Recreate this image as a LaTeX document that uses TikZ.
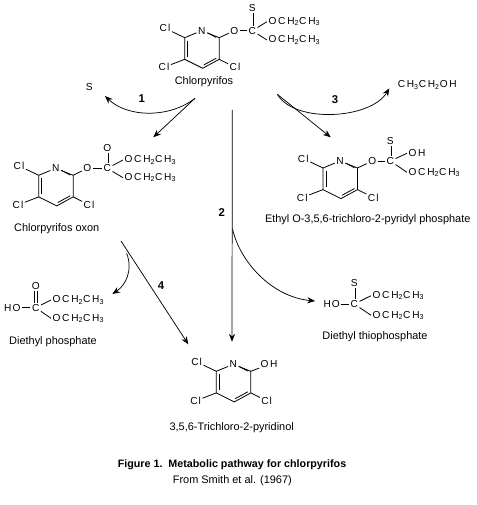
\documentclass[tikz,border=0pt]{standalone}
\usepackage{fontspec}
\setmainfont{Liberation Sans}
\usetikzlibrary{arrows.meta}

\tikzset{
  atom/.style={inner sep=1pt,font=\fontsize{7.6}{9}\selectfont},
  chemname/.style={inner sep=0pt,font=\fontsize{8.2}{10}\selectfont},
  steplabel/.style={inner sep=0pt,font=\fontsize{8.5}{10}\selectfont\bfseries},
  bond/.style={line width=0.6pt},
  dbond/.style={bond,double,double distance=1.5pt},
  patharrow/.style={line width=0.55pt,-{Stealth[length=5.8pt,width=4.6pt]}}
}

\newcommand{\Cl}{C\kern0.8pt l}
\newcommand{\ethoxy}{O\kern1.3pt C\kern1.3pt H\textsubscript{2}C\kern1.3pt H\textsubscript{3}}

% anello: prefisso, posizione di N, sostituente in 2
\newcommand{\pyrring}[4]{
  \begin{scope}[shift={(#2,#3)},name prefix=#1-]
    \node[atom] (N) at (0,0) {N};
    \coordinate (c2) at (17.5,7);
    \coordinate (c3) at (17.5,28.6);
    \coordinate (c4) at (1,37.6);
    \coordinate (c5) at (-17,28.6);
    \coordinate (c6) at (-17,7);
    \node[atom] (cl6) at (-36.7,-2.4) {\Cl};
    \node[atom] (cl5) at (-37.7,36.6) {\Cl};
    \node[atom] (cl3) at (33.3,36.6) {\Cl};
    #4
    \draw[bond] (N) -- (c2) -- (c3) -- (c4) -- (c5) -- (c6) -- (N);
    \draw[bond] (6,2.2) -- (14.5,6.8);
    \draw[bond] (14.5,27.5) -- (2,34.3);
    \draw[bond] (-14,10) -- (-14,26);
    \draw[bond] (c6) -- (cl6);
    \draw[bond] (c5) -- (cl5);
    \draw[bond] (c3) -- (cl3);
    \draw[bond] (c2) -- (sub);
  \end{scope}
}

\begin{document}
\begin{tikzpicture}[x=0.75pt,y=-0.75pt]
  \useasboundingbox (0,0) rectangle (476,505);

  % Chlorpyrifos
  \pyrring{cp}{201.7}{30.7}{\node[atom] (sub) at (32.6,0) {O};}
  \node[atom] (cpC) at (252.3,30.7) {C};
  \node[atom] (cpS) at (252.3,8.3) {S};
  \node[atom,anchor=west] (cpE1) at (267,21.7) {\ethoxy};
  \node[atom,anchor=west] (cpE2) at (267,40) {\ethoxy};
  \node[chemname] (cpName) at (204,82) {Chlorpyrifos};
  \draw[bond] (cp-sub) -- (cpC);
  \draw[dbond] (cpC) -- (cpS);
  \draw[bond] (cpC) -- (cpE1.west);
  \draw[bond] (cpC) -- (cpE2.west);

  % Chlorpyrifos oxon
  \pyrring{ox}{55.7}{168.3}{\node[atom] (sub) at (31.6,0) {O};}
  \node[atom] (oxC) at (107.3,168.3) {C};
  \node[atom] (oxO) at (107.3,147.7) {O};
  \node[atom,anchor=west] (oxE1) at (123,160) {\ethoxy};
  \node[atom,anchor=west] (oxE2) at (123,177.7) {\ethoxy};
  \node[chemname] (oxName) at (56.7,228.3) {Chlorpyrifos oxon};
  \draw[bond] (ox-sub) -- (oxC);
  \draw[dbond] (oxC) -- (oxO);
  \draw[bond] (oxC) -- (oxE1.west);
  \draw[bond] (oxC) -- (oxE2.west);

  % Ethyl O-3,5,6-trichloro-2-pyridyl phosphate
  \pyrring{ep}{340}{161}{\node[atom] (sub) at (32.3,0) {O};}
  \node[atom] (epC) at (390.3,161) {C};
  \node[atom] (epS) at (390.3,141) {S};
  \node[atom,anchor=west] (epH) at (407,153.3) {O\kern1.3pt H};
  \node[atom,anchor=west] (epE) at (407,172.3) {\ethoxy};
  \node[chemname] (epName) at (367.7,219.3) {Ethyl O-3,5,6-trichloro-2-pyridyl phosphate};
  \draw[bond] (ep-sub) -- (epC);
  \draw[dbond] (epC) -- (epS);
  \draw[bond] (epC) -- (epH.west);
  \draw[bond] (epC) -- (epE.west);

  % Diethyl phosphate
  \node[atom] (dpC) at (35.7,307.7) {C};
  \node[atom] (dpO) at (35.7,286) {O};
  \node[atom] (dpH) at (12.3,307.7) {H\kern0.8pt O};
  \node[atom,anchor=west] (dpE1) at (51,300) {\ethoxy};
  \node[atom,anchor=west] (dpE2) at (51,318.3) {\ethoxy};
  \node[chemname] (dpName) at (53,341.7) {Diethyl phosphate};
  \draw[bond] (dpH) -- (dpC);
  \draw[dbond] (dpC) -- (dpO);
  \draw[bond] (dpC) -- (dpE1.west);
  \draw[bond] (dpC) -- (dpE2.west);

  % Diethyl thiophosphate
  \node[atom] (dtC) at (354.3,304) {C};
  \node[atom] (dtS) at (354.3,283.3) {S};
  \node[atom] (dtH) at (331.7,304) {H\kern0.8pt O};
  \node[atom,anchor=west] (dtE1) at (371,295.7) {\ethoxy};
  \node[atom,anchor=west] (dtE2) at (371,315.3) {\ethoxy};
  \node[chemname] (dtName) at (375,336.7) {Diethyl thiophosphate};
  \draw[bond] (dtH) -- (dtC);
  \draw[dbond] (dtC) -- (dtS);
  \draw[bond] (dtC) -- (dtE1.west);
  \draw[bond] (dtC) -- (dtE2.west);

  % 3,5,6-Trichloro-2-pyridinol
  \pyrring{tp}{233.3}{364.3}{\node[atom] (sub) at (35.7,0) {O\kern1.3pt H};}
  \node[chemname] (tpName) at (231.7,427.3) {3,5,6-Trichloro-2-pyridinol};

  % Altri testi
  \node[atom] (sulfur) at (89.3,87.3) {S};
  \node[atom] (ethanol) at (427.3,85) {C\kern1.3pt H\textsubscript{3}C\kern1.3pt H\textsubscript{2}O\kern1.3pt H};
  \node[chemname,font=\fontsize{8.05}{10}\selectfont\bfseries] (title) at (232,465) {Figure 1.\ \ Metabolic pathway for chlorpyrifos};
  \node[chemname] (source) at (232.3,481) {From Smith et al. (1967)};

  % Punti delle frecce
  \coordinate (a) at (195,98.3);
  \coordinate (aS) at (105,96);
  \coordinate (aOx) at (153.3,137.3);
  \coordinate (b) at (232.3,110);
  \coordinate (bIn) at (232.5,229);
  \coordinate (bT) at (315,301);
  \coordinate (bEnd) at (232,341.7);
  \coordinate (c) at (277.3,94.3);
  \coordinate (cOH) at (389.3,88.3);
  \coordinate (cEp) at (330.7,137.3);
  \coordinate (d) at (121,241);
  \coordinate (dIn) at (126.7,253.3);
  \coordinate (dP) at (112.3,294);
  \coordinate (dEnd) at (188.3,344.3);

  % Frecce
  \draw[patharrow] (a) .. controls (170,118) and (128,118) .. (aS);
  \draw[patharrow] (a) -- (aOx);
  \draw[patharrow] (b) -- (bEnd);
  \draw[patharrow] (bIn) .. controls (240,262) and (272,297) .. (bT);
  \draw[patharrow] (c) .. controls (295,124) and (371,119) .. (cOH);
  \draw[patharrow] (c) -- (cEp);
  \draw[patharrow] (d) -- (dEnd);
  \draw[patharrow] (dIn) .. controls (133,270) and (126,285) .. (dP);

  \node[steplabel] (n1) at (141.7,99) {1};
  \node[steplabel] (n2) at (221.7,212.3) {2};
  \node[steplabel] (n3) at (335,100) {3};
  \node[steplabel] (n4) at (161,286) {4};
\end{tikzpicture}
\end{document}
